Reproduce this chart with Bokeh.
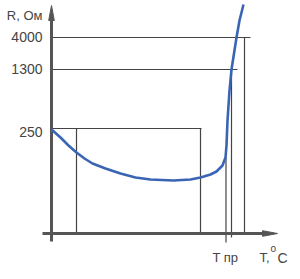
from bokeh.plotting import figure
from bokeh.models import Range1d
from bokeh.core.properties import value
from bokeh.embed import file_html
from bokeh.resources import INLINE

# Schematic R(T) curve of a posistor (chart units)
T = [0, 9, 17, 25, 33, 41, 54, 69, 84, 99, 122, 139, 149, 159, 165, 171, 174, 175, 176, 178, 180, 185, 188, 192]
R = [104, 96, 88, 81, 75, 70, 65, 60, 56, 54, 53, 54, 56, 59, 62, 68, 76, 88, 113, 143, 164, 196, 213, 229]

# R tick labels and their positions on the schematic axis
r_labels = ["250", "1300", "4000"]
r_pos = [105, 164, 196]
r_label_pos = [102, 165, 196.5]
# guide line extents (x end of horizontal guides)
r_guide_end = [150, 186, 199]

# vertical guide lines: T position, bottom, top
v_T = [25, 149, 174.5, 180, 193]
v_bot = [0, 0, -9, -4, 0]
v_top = [105, 105, 76, 164, 196]

T_pr = 174.5
axis_col = "#555555"
line_col = "#444444"
txt_col = "#444444"
font = value("Liberation Sans")

p = figure(width=300, height=279, output_backend="svg", toolbar_location=None,
           x_range=Range1d(-51, 249), y_range=Range1d(-46, 233),
           x_axis_type=None, y_axis_type=None, min_border=0,
           outline_line_color=None)
p.xgrid.visible = False
p.ygrid.visible = False
p.background_fill_color = "white"

# horizontal guides
p.segment(x0=[0] * 3, y0=r_pos, x1=r_guide_end, y1=r_pos, line_color=line_col, line_width=1.2)
# vertical guides
p.segment(x0=v_T, y0=v_bot, x1=v_T, y1=v_top, line_color=line_col, line_width=1.2)

# axes
x_min, x_max, y_min, y_max = -9, 226, -8, 228
p.segment(x0=[x_min, 0], y0=[0, y_min], x1=[x_max - 8, 0], y1=[0, y_max - 8],
          line_color=axis_col, line_width=3)
hl, hw = 15, 2.8
p.patch([x_max, x_max - hl, x_max - hl], [0, hw, -hw], color=axis_col)
p.patch([0, hw, -hw], [y_max, y_max - hl, y_max - hl], color=axis_col)

# curve
p.line(T, R, line_color="#3a64b4", line_width=2.6)

# labels
p.text(x=[-9] * 3, y=r_label_pos, text=r_labels, text_align="right", text_baseline="middle",
       text_font=font, text_font_size="14px", text_color=txt_col)
p.text(x=[-9], y=[218], text=["R, Ом"], text_align="right", text_baseline="middle",
       text_font=font, text_font_size="13px", text_color=txt_col)
p.text(x=[161], y=[-24], text=["T пр"], text_align="left", text_baseline="alphabetic",
       text_font=font, text_font_size="13px", text_color=txt_col)
p.text(x=[208], y=[-24], text=["T,"], text_align="left", text_baseline="alphabetic",
       text_font=font, text_font_size="13px", text_color=txt_col)
p.text(x=[219], y=[-15], text=["o"], text_align="left", text_baseline="alphabetic",
       text_font=font, text_font_size="10px", text_color=txt_col)
p.text(x=[226], y=[-24], text=["C"], text_align="left", text_baseline="alphabetic",
       text_font=font, text_font_size="14px", text_color=txt_col)

open("out.html", "w").write(file_html(p, INLINE))
